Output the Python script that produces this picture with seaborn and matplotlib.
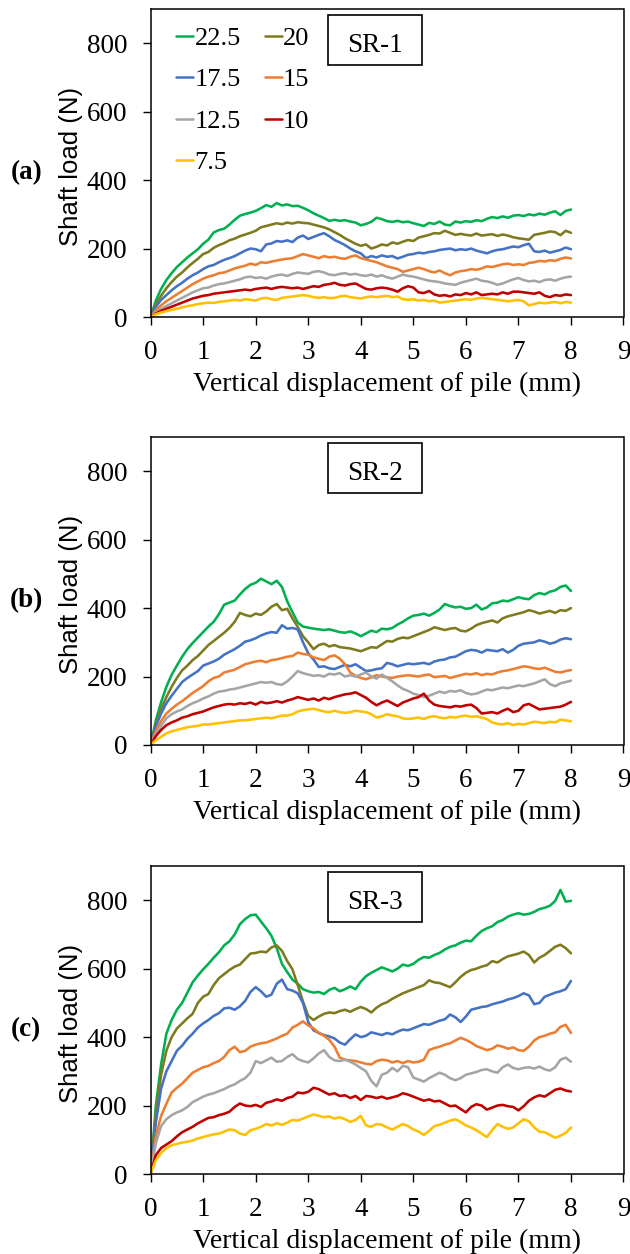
import numpy as np
import pandas as pd
import matplotlib
matplotlib.use("Agg")
import matplotlib.pyplot as plt
from matplotlib.patches import Rectangle
from matplotlib.lines import Line2D
import seaborn as sns

# ---------------- data ----------------
disp = [round(0.1 * i, 1) for i in range(81)]  # vertical displacement (mm)
cases = ["22.5", "20", "17.5", "15", "12.5", "10", "7.5"]
panels = ["SR-1", "SR-2", "SR-3"]
panel_tags = ["(a)", "(b)", "(c)"]
colors = ["#00B050", "#7E7A1E", "#4472C4", "#ED7D31", "#A5A5A5", "#C00000", "#FFC000"]

sr1_225 = [0, 48, 82, 108, 128, 146, 160, 174, 186, 198,
           214, 226, 247, 254, 258, 270, 284, 296, 301, 305,
           310, 318, 327, 322, 333, 326, 329, 324, 325, 319,
           312, 303, 296, 289, 281, 284, 281, 283, 279, 276,
           268, 272, 278, 290, 286, 280, 278, 281, 277, 279,
           274, 270, 266, 275, 272, 279, 270, 268, 279, 276,
           280, 278, 283, 280, 287, 292, 289, 294, 290, 296,
           298, 295, 300, 297, 302, 299, 305, 309, 298, 310, 314]
sr1_20 = [0, 36, 62, 84, 102, 118, 130, 145, 158, 170,
          184, 190, 202, 210, 216, 224, 229, 236, 241, 246,
          252, 262, 266, 270, 274, 271, 276, 273, 277, 275,
          274, 270, 266, 262, 256, 248, 240, 230, 222, 214,
          208, 212, 200, 205, 212, 209, 218, 214, 220, 225,
          222, 232, 236, 240, 245, 244, 252, 246, 240, 243,
          240, 238, 244, 238, 240, 242, 237, 241, 238, 233,
          230, 228, 226, 240, 243, 246, 250, 248, 239, 252, 246]
sr1_175 = [0, 30, 50, 64, 78, 90, 100, 112, 122, 130,
           140, 148, 152, 160, 167, 172, 178, 186, 194, 200,
           198, 192, 212, 215, 222, 220, 224, 219, 232, 238,
           228, 234, 240, 245, 236, 225, 218, 210, 200, 192,
           186, 172, 178, 174, 180, 176, 178, 171, 176, 182,
           184, 188, 186, 190, 192, 196, 198, 200, 195, 198,
           196, 200, 194, 190, 186, 192, 196, 198, 202, 206,
           204, 210, 214, 192, 190, 194, 188, 192, 196, 203, 198]
sr1_15 = [0, 20, 34, 46, 56, 66, 76, 86, 96, 104,
          112, 118, 122, 128, 130, 136, 142, 146, 150, 156,
          152, 160, 158, 162, 165, 168, 170, 172, 178, 184,
          180, 176, 172, 178, 174, 176, 172, 170, 176, 180,
          172, 168, 164, 160, 154, 148, 144, 140, 132, 136,
          140, 144, 140, 134, 130, 136, 128, 122, 130, 134,
          136, 140, 138, 142, 148, 146, 150, 154, 156, 152,
          154, 152, 158, 160, 164, 162, 166, 164, 170, 174, 171]
sr1_125 = [0, 14, 24, 32, 40, 48, 56, 64, 72, 78,
           84, 86, 92, 96, 98, 102, 106, 110, 116, 118,
           114, 116, 112, 118, 122, 124, 120, 126, 130, 128,
           126, 132, 134, 130, 124, 122, 126, 128, 124, 126,
           122, 120, 124, 118, 122, 116, 112, 118, 124, 120,
           118, 114, 110, 106, 104, 102, 98, 96, 94, 100,
           104, 108, 112, 106, 104, 100, 94, 98, 104, 110,
           114, 108, 104, 106, 102, 108, 110, 106, 112, 116, 118]
sr1_10 = [0, 10, 18, 24, 30, 36, 42, 48, 54, 58,
          62, 64, 68, 70, 72, 74, 76, 78, 80, 78,
          82, 84, 86, 82, 86, 88, 86, 84, 86, 82,
          86, 90, 88, 94, 96, 100, 94, 92, 96, 98,
          90, 82, 80, 84, 86, 84, 80, 74, 84, 90,
          86, 72, 70, 76, 66, 62, 64, 60, 66, 64,
          70, 66, 72, 64, 66, 68, 66, 72, 68, 74,
          74, 72, 70, 68, 72, 62, 58, 64, 62, 66, 64]
sr1_75 = [0, 8, 13, 17, 21, 24, 28, 32, 34, 38,
          40, 42, 41, 44, 46, 48, 50, 48, 52, 50,
          48, 54, 56, 52, 50, 56, 58, 60, 62, 64,
          62, 58, 56, 58, 55, 56, 60, 62, 58, 56,
          54, 58, 60, 58, 60, 62, 58, 60, 52, 50,
          52, 48, 50, 46, 48, 42, 44, 46, 48, 50,
          52, 50, 54, 56, 54, 52, 50, 48, 46, 48,
          50, 46, 34, 38, 42, 40, 42, 44, 40, 44, 42]

sr2_225 = [0, 72, 125, 170, 205, 232, 258, 280, 298, 314,
           330, 346, 360, 382, 410, 416, 422, 440, 456, 468,
           474, 486, 478, 470, 480, 462, 420, 388, 358, 346,
           343, 340, 338, 336, 338, 334, 330, 328, 332, 326,
           318, 326, 334, 330, 340, 338, 342, 352, 360, 370,
           378, 380, 384, 378, 386, 396, 412, 406, 402, 404,
           398, 400, 410, 396, 402, 414, 416, 422, 420, 426,
           432, 428, 426, 438, 444, 440, 448, 452, 462, 466, 450]
sr2_20 = [0, 60, 105, 140, 170, 196, 218, 232, 248, 260,
          276, 292, 304, 316, 328, 342, 360, 386, 380, 376,
          384, 380, 390, 404, 412, 394, 398, 370, 345, 318,
          300, 280, 292, 296, 288, 292, 286, 284, 282, 278,
          274, 280, 286, 284, 294, 304, 302, 310, 314, 312,
          318, 324, 330, 336, 344, 340, 336, 340, 342, 334,
          332, 340, 350, 356, 360, 364, 358, 370, 376, 380,
          384, 388, 394, 390, 384, 388, 392, 386, 394, 392, 400]
sr2_175 = [0, 55, 92, 122, 144, 164, 184, 196, 206, 216,
           232, 238, 244, 252, 264, 272, 280, 290, 302, 306,
           312, 320, 326, 330, 328, 350, 340, 342, 338, 300,
           268, 250, 228, 230, 224, 222, 228, 234, 230, 236,
           226, 216, 218, 222, 224, 240, 236, 230, 234, 238,
           236, 238, 240, 236, 244, 248, 250, 256, 258, 266,
           274, 278, 276, 270, 278, 276, 274, 280, 270, 278,
           290, 296, 298, 300, 306, 302, 296, 300, 308, 312, 309]
sr2_15 = [0, 40, 70, 92, 106, 118, 128, 140, 152, 162,
          172, 186, 196, 200, 212, 216, 220, 228, 236, 240,
          244, 246, 242, 248, 250, 254, 258, 260, 270, 266,
          264, 256, 252, 248, 258, 262, 252, 236, 212, 202,
          196, 192, 198, 204, 200, 198, 196, 200, 202, 204,
          202, 200, 204, 206, 198, 200, 202, 196, 200, 204,
          208, 206, 210, 204, 208, 206, 212, 216, 218, 222,
          226, 230, 228, 224, 222, 226, 220, 214, 212, 216, 219]
sr2_125 = [0, 32, 56, 78, 90, 98, 104, 114, 122, 128,
           136, 142, 150, 156, 158, 162, 164, 168, 172, 176,
           180, 184, 182, 184, 178, 176, 186, 200, 216, 210,
           206, 202, 204, 200, 208, 206, 210, 200, 204, 200,
           206, 212, 200, 194, 206, 196, 186, 174, 164, 158,
           150, 146, 140, 144, 150, 156, 152, 158, 156, 160,
           152, 148, 150, 156, 162, 160, 164, 168, 166, 170,
           174, 172, 176, 180, 186, 192, 178, 172, 180, 184, 188]
sr2_10 = [0, 26, 44, 58, 66, 72, 80, 84, 90, 94,
          98, 104, 110, 114, 118, 120, 118, 122, 120, 124,
          118, 126, 122, 124, 128, 124, 130, 134, 140, 136,
          132, 136, 130, 138, 134, 140, 144, 148, 150, 154,
          146, 138, 126, 116, 124, 130, 122, 114, 124, 130,
          136, 140, 150, 130, 118, 114, 112, 110, 114, 112,
          116, 118, 108, 92, 94, 96, 92, 100, 106, 96,
          100, 116, 120, 112, 104, 106, 108, 110, 112, 118, 126]
sr2_75 = [0, 14, 24, 34, 40, 44, 48, 52, 54, 56,
          60, 60, 62, 64, 66, 68, 70, 72, 72, 74,
          76, 78, 80, 78, 82, 86, 86, 90, 98, 102,
          104, 106, 102, 98, 96, 100, 96, 94, 96, 100,
          98, 96, 90, 80, 84, 90, 86, 84, 78, 76,
          78, 80, 76, 82, 84, 80, 78, 82, 80, 84,
          86, 82, 84, 80, 76, 66, 62, 60, 64, 58,
          62, 60, 64, 68, 66, 64, 68, 66, 74, 72, 69]

sr3_225 = [0, 200, 320, 410, 450, 480, 500, 530, 560, 580,
           598, 614, 632, 648, 668, 680, 700, 730, 745, 756,
           758, 738, 718, 696, 660, 614, 590, 568, 556, 540,
           534, 530, 532, 526, 538, 544, 534, 540, 548, 540,
           562, 578, 588, 596, 604, 598, 592, 600, 612, 608,
           614, 626, 634, 632, 640, 646, 656, 664, 668, 676,
           682, 680, 696, 710, 718, 724, 736, 742, 752, 758,
           762, 758, 760, 766, 774, 778, 784, 798, 830, 796, 798]
sr3_20 = [0, 180, 290, 360, 400, 425, 440, 455, 468, 500,
          518, 526, 552, 572, 584, 596, 606, 612, 628, 644,
          646, 650, 648, 662, 668, 652, 622, 598, 552, 504,
          462, 450, 460, 468, 472, 470, 476, 480, 474, 482,
          488, 482, 472, 486, 496, 502, 512, 520, 528, 534,
          540, 546, 552, 566, 560, 558, 552, 546, 560, 576,
          588, 596, 600, 606, 610, 622, 618, 628, 636, 640,
          644, 650, 640, 618, 632, 640, 652, 664, 670, 660, 645]
sr3_175 = [0, 150, 250, 300, 330, 360, 375, 395, 410, 428,
           440, 450, 462, 470, 484, 486, 480, 490, 506, 532,
           546, 534, 518, 524, 556, 568, 540, 536, 528, 500,
           444, 420, 412, 406, 402, 396, 384, 378, 394, 408,
           400, 404, 414, 410, 406, 412, 408, 416, 422, 420,
           426, 432, 438, 436, 442, 448, 452, 466, 458, 444,
           460, 480, 484, 488, 490, 496, 500, 504, 510, 514,
           520, 528, 522, 496, 500, 518, 524, 530, 534, 540, 564]
sr3_15 = [0, 110, 170, 205, 238, 252, 264, 280, 296, 304,
          312, 316, 324, 330, 342, 362, 372, 356, 360, 372,
          378, 382, 384, 390, 396, 404, 410, 428, 436, 446,
          434, 426, 412, 404, 392, 372, 340, 334, 332, 330,
          326, 322, 320, 330, 334, 332, 326, 330, 324, 330,
          326, 328, 334, 362, 368, 372, 378, 382, 390, 398,
          392, 384, 374, 368, 362, 366, 376, 372, 366, 370,
          362, 360, 372, 390, 400, 404, 410, 414, 430, 436, 412]
sr3_125 = [0, 90, 140, 160, 172, 180, 186, 196, 210, 218,
           226, 232, 236, 242, 248, 256, 262, 272, 280, 296,
           330, 324, 332, 340, 328, 330, 342, 350, 336, 330,
           326, 338, 352, 362, 342, 332, 330, 334, 328, 320,
           310, 300, 272, 256, 290, 296, 310, 300, 316, 312,
           282, 276, 270, 280, 288, 296, 290, 280, 274, 280,
           290, 294, 298, 304, 306, 300, 296, 312, 320, 310,
           306, 310, 312, 308, 314, 306, 302, 312, 334, 340, 328]
sr3_10 = [0, 55, 76, 86, 96, 110, 122, 130, 138, 148,
          156, 164, 166, 172, 176, 182, 196, 206, 200, 198,
          202, 196, 208, 212, 218, 214, 222, 226, 238, 236,
          240, 252, 248, 240, 232, 236, 228, 230, 222, 228,
          216, 228, 226, 222, 226, 220, 224, 228, 236, 232,
          226, 220, 214, 218, 212, 214, 206, 198, 200, 190,
          180, 196, 204, 200, 188, 194, 200, 202, 198, 196,
          186, 198, 214, 224, 230, 226, 236, 246, 250, 244, 241]
sr3_75 = [0, 40, 62, 76, 84, 88, 92, 94, 98, 104,
          108, 112, 116, 118, 124, 130, 128, 118, 114, 128,
          132, 138, 146, 142, 148, 144, 150, 158, 156, 162,
          168, 174, 170, 166, 168, 162, 166, 160, 152, 158,
          170, 142, 138, 146, 144, 136, 130, 138, 146, 140,
          130, 124, 114, 126, 140, 144, 150, 156, 160, 152,
          142, 136, 128, 118, 108, 128, 146, 138, 132, 136,
          148, 160, 154, 136, 124, 122, 114, 106, 112, 120, 136]

panel_series = {
    "SR-1": [sr1_225, sr1_20, sr1_175, sr1_15, sr1_125, sr1_10, sr1_75],
    "SR-2": [sr2_225, sr2_20, sr2_175, sr2_15, sr2_125, sr2_10, sr2_75],
    "SR-3": [sr3_225, sr3_20, sr3_175, sr3_15, sr3_125, sr3_10, sr3_75],
}

rows = []
for p in panels:
    for c, vals in zip(cases, panel_series[p]):
        for x, v in zip(disp, vals):
            rows.append((p, c, x, v))
df = pd.DataFrame(rows, columns=["panel", "case", "disp", "load"])

# ---------------- style ----------------
sns.set_style("white")
plt.rcParams["font.family"] = ["Liberation Serif", "DejaVu Serif"]
plt.rcParams["axes.linewidth"] = 1.1

palette = dict(zip(cases, colors))

fig = plt.figure(figsize=(6.3, 12.54), dpi=100)
W, H = 630, 1254
ax_left, ax_right = 150.6, 623.5
bottoms = [317, 745, 1174]
ax_h = 308
FS = 19.5

for i, p in enumerate(panels):
    rect = [ax_left / W, 1 - bottoms[i] / H, (ax_right - ax_left) / W, ax_h / H]
    ax = fig.add_axes(rect)
    sub = df[df["panel"] == p]
    sns.lineplot(data=sub, x="disp", y="load", hue="case", hue_order=cases,
                 palette=palette, estimator=None, sort=False, linewidth=1.85,
                 legend=False, ax=ax)
    ax.set_xlim(0, 9)
    ax.set_ylim(0, 900)
    ax.set_xticks(range(0, 10))
    ax.set_yticks(range(0, 801, 200))
    for s in ax.spines.values():
        s.set_visible(True)
        s.set_color("black")
        s.set_linewidth(1.1)
    ax.tick_params(axis="both", which="major", direction="out", length=5.8,
                   width=1.0, color="black", labelcolor="black", labelsize=FS,
                   bottom=True, left=True)
    ax.tick_params(axis="x", pad=11)
    ax.tick_params(axis="y", pad=11)
    ax.set_xlabel("Vertical displacement of pile (mm)", fontsize=20,
                  va="center", color="black")
    ax.xaxis.set_label_coords(0.5, -0.220)
    ax.set_ylabel("Shaft load (N)", fontsize=18.5,
                  family=["Liberation Sans", "DejaVu Sans"],
                  va="center", ha="center", color="black")
    ax.yaxis.set_label_coords(-0.168, 0.49)
    ax.text(-0.263, 0.47, panel_tags[i], transform=ax.transAxes, fontsize=19.5,
            fontweight="bold", ha="center", va="center", color="black")
    # SR box
    ax.add_patch(Rectangle((0.375, 0.817), 0.199, 0.165, transform=ax.transAxes,
                           facecolor="white", edgecolor="black", linewidth=1.2,
                           zorder=5))
    ax.text(0.4745, 0.881, p, transform=ax.transAxes, fontsize=FS,
            ha="center", va="center", zorder=6, color="black")

    if i == 0:
        handles = [Line2D([0], [0], color=palette[c], lw=1.8) for c in cases]
        order = [0, 2, 4, 6, 1, 3, 5]
        leg = ax.legend([handles[k] for k in order], [cases[k] for k in order],
                        ncol=2, loc="upper left", bbox_to_anchor=(0.054, 0.943),
                        frameon=False, fontsize=19, handlelength=0.65,
                        handletextpad=0.05, labelspacing=0.68,
                        columnspacing=0.9, borderpad=0, borderaxespad=0)
        for t in leg.get_texts():
            t.set_color("black")

fig.savefig("out.png", dpi=100)
